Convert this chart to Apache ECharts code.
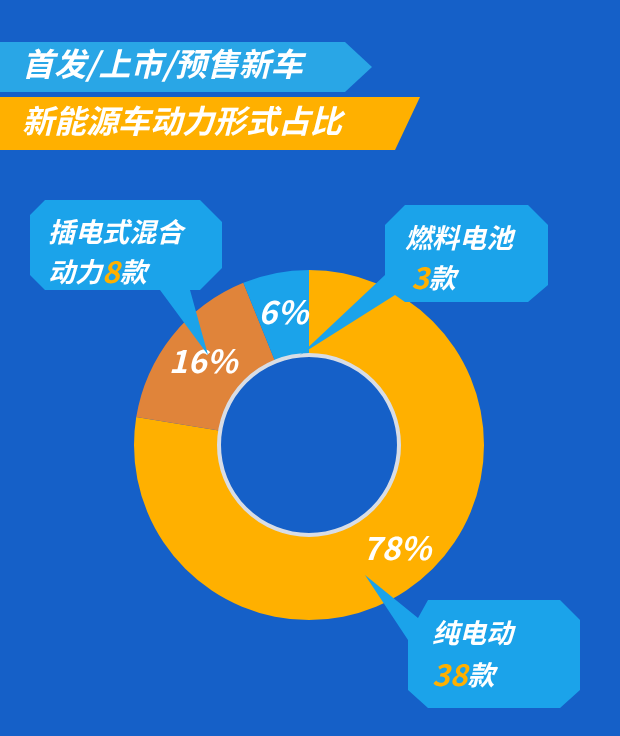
<!DOCTYPE html><html><head><meta charset="utf-8">
<script src="https://cdn.jsdelivr.net/npm/echarts@6/dist/echarts.min.js"></script>
<style>html,body{margin:0;padding:0;background:#1560C8}#c{width:620px;height:736px}</style></head><body><div id="c"></div><script>
const categories=['纯电动','插电式混合动力','燃料电池'];
const counts=[38,8,3];
const percents=['78%','16%','6%'];
const colors=['#FFB000','#E0843A','#1BA3EA'];
const F='"Noto Sans CJK SC",sans-serif';
const chart=echarts.init(document.getElementById('c'));
function bubble(pts){return {type:'polygon',z:20,shape:{points:pts},style:{fill:'#1BA3EA'}};}
const rich={o:{fill:'#FFB000',font:'italic bold 30px '+F},w:{fill:'#fff',font:'italic bold 27px '+F}};
chart.setOption({
backgroundColor:'#1560C8',
graphic:[
 {type:'polygon',shape:{points:[[0,42],[345,42],[372,67],[345,92],[0,92]]},style:{fill:'#29A6E6'}},
 {type:'polygon',shape:{points:[[0,97],[420,97],[395,150],[0,150]]},style:{fill:'#FFB000'}},
 {type:'text',x:22,y:48,style:{text:'首发/上市/预售新车',font:'italic bold 32px '+F,fill:'#fff'}},
 {type:'text',x:22,y:105,style:{text:'新能源车动力形式占比',font:'italic bold 32px '+F,fill:'#fff'}},
 bubble([[45,200],[200,200],[222,222],[222,268],[200,290],[190,290],[208,355],[160,290],[45,290],[30,275],[30,215]]),
 bubble([[405,205],[528,205],[548,225],[548,285],[528,302],[405,302],[395,295],[300,355],[385,275],[385,225]]),
 bubble([[428,600],[560,600],[580,620],[580,690],[560,708],[428,708],[408,690],[408,640],[365,575],[418,618]]),
 {type:'text',z:21,x:48,y:212,style:{text:'插电式混合\n{w|动力}{o|8}{w|款}',rich:rich,font:'italic bold 27px '+F,fill:'#fff',lineHeight:40}},
 {type:'text',z:21,x:405,y:218,style:{text:'燃料电池\n {o|3}{w|款}',rich:rich,font:'italic bold 27px '+F,fill:'#fff',lineHeight:40}},
 {type:'text',z:21,x:432,y:612,style:{text:'纯电动\n{o|38}{w|款}',rich:rich,font:'italic bold 27px '+F,fill:'#fff',lineHeight:42}},
 {type:'circle',shape:{cx:309,cy:445,r:90},style:{fill:'#1560C8',stroke:'#D8DDE5',lineWidth:4},z:10}
],
series:[{type:'pie',center:[309,445],radius:[90,175],startAngle:90,clockwise:true,silent:true,z:2,
 label:{position:'inside',formatter:p=>percents[p.dataIndex],color:'#fff',fontSize:32,fontWeight:'bold',fontStyle:'italic',fontFamily:F},
 labelLine:{show:false},
 data:categories.map((c,i)=>({name:c,value:counts[i],itemStyle:{color:colors[i]}}))}]
});
</script></body></html>
